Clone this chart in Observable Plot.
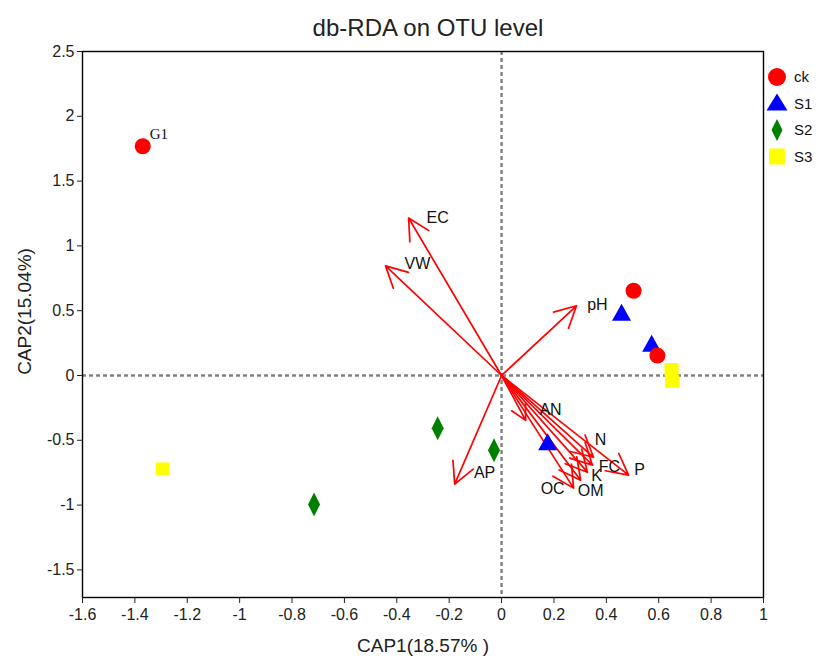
<!DOCTYPE html>
<html><head><meta charset="utf-8">
<script src="https://cdn.jsdelivr.net/npm/d3@7"></script>
<script src="https://cdn.jsdelivr.net/npm/@observablehq/plot@0.6"></script>
<style>
body{margin:0;background:#fff;font-family:"Liberation Sans",Arial,sans-serif;}
#wrap{position:relative;width:817px;height:663px;overflow:hidden;}
#title{position:absolute;left:0;top:16px;width:856px;text-align:center;font-size:24px;color:#222;line-height:24px;}
#chart{position:absolute;left:0;top:40px;}
#legend{position:absolute;left:763px;top:60px;}
</style>
</head><body>
<div id="wrap"><div id="title">db-RDA on OTU level</div><div id="chart"></div><svg id="legend" width="54" height="110"></svg></div>
<script>
// ---- data ----
const groups = ["ck", "S1", "S2", "S3"];
const groupColors = ["#ff0000", "#0000ff", "#008000", "#ffff00"];
const sampleGroup = ["ck", "ck", "ck", "S1", "S1", "S1", "S2", "S2", "S2", "S3", "S3", "S3"];
const sampleX = [-1.370, 0.504, 0.595, 0.458, 0.573, 0.176, -0.244, -0.029, -0.716, -1.294, 0.649, 0.651];
const sampleY = [1.769, 0.654, 0.154, 0.477, 0.238, -0.523, -0.408, -0.577, -0.995, -0.721, 0.046, -0.046];
const sampleLabel = ["G1", "", "", "", "", "", "", "", "", "", "", ""];
const envNames = ["EC", "VW", "pH", "AP", "AN", "N", "FC", "K", "OM", "OC", "P"];
const envX = [-0.355, -0.443, 0.286, -0.179, 0.092, 0.351, 0.347, 0.328, 0.302, 0.275, 0.485];
const envY = [1.215, 0.846, 0.538, -0.838, -0.346, -0.631, -0.692, -0.746, -0.808, -0.869, -0.769];
const envLabelX = [-0.244, -0.321, 0.366, -0.065, 0.187, 0.378, 0.412, 0.363, 0.340, 0.195, 0.527];
const envLabelY = [1.215, 0.862, 0.546, -0.754, -0.269, -0.500, -0.708, -0.777, -0.892, -0.877, -0.731];
const xTicks = [-1.6, -1.4, -1.2, -1, -0.8, -0.6, -0.4, -0.2, 0, 0.2, 0.4, 0.6, 0.8, 1];
const yTicks = [-1.5, -1, -0.5, 0, 0.5, 1, 1.5, 2, 2.5];

// ---- symbols ----
const symCircle = {draw(c){ c.moveTo(8,0); c.arc(0,0,8,0,2*Math.PI); c.closePath(); }};
const symTri = {draw(c){ c.moveTo(0,-10); c.lineTo(9.5,7); c.lineTo(-9.5,7); c.closePath(); }};
const symDiamond = {draw(c){ c.moveTo(0,-12); c.lineTo(6,0); c.lineTo(0,12); c.lineTo(-6,0); c.closePath(); }};
const symSquare = {draw(c){ c.rect(-7,-6.5,14,13); }};
const groupSymbols = [symCircle, symTri, symDiamond, symSquare];

const samples = sampleX.map((x, i) => ({x, y: sampleY[i], g: sampleGroup[i], label: sampleLabel[i]}));
const env = envNames.map((n, i) => ({n, x: envX[i], y: envY[i], lx: envLabelX[i], ly: envLabelY[i]}));

const drawOrder = ["S1", "ck", "S2", "S3"];
const dotMarks = drawOrder.map(g => {
  const k = groups.indexOf(g);
  return Plot.dot(samples.filter(d => d.g === g), {x: "x", y: "y", r: 8, symbol: groupSymbols[k], fill: groupColors[k], stroke: "none"});
});

const plot = Plot.plot({
  width: 817, height: 623,
  marginTop: 11, marginBottom: 66, marginLeft: 82, marginRight: 54,
  style: {fontFamily: "'Liberation Sans', Arial, sans-serif", color: "#222", background: "#fff"},
  x: {domain: [-1.6, 1]},
  y: {domain: [-1.713, 2.5]},
  marks: [
    Plot.ruleX([0], {stroke: "#808080", strokeWidth: 2.4, strokeDasharray: "4,3"}),
    Plot.ruleY([0], {stroke: "#808080", strokeWidth: 2.4, strokeDasharray: "4,3"}),
    Plot.frame({stroke: "#000", strokeWidth: 1.4}),
    Plot.axisX({ticks: xTicks, tickFormat: d => String(d), tickSize: 6, tickPadding: 5, label: "CAP1(18.57% )", labelArrow: false, labelAnchor: "center", labelOffset: 54}),
    Plot.axisY({ticks: yTicks, tickFormat: d => String(d), tickSize: 5, tickPadding: 3, label: "CAP2(15.04%)", labelArrow: false, labelAnchor: "center", labelOffset: 65}),
    Plot.arrow(env, {x1: d => 0, y1: d => 0, x2: "x", y2: "y", stroke: "#ff0000", strokeWidth: 1.7, headLength: 21, headAngle: 55}),
    Plot.text(env, {x: "lx", y: "ly", text: "n", fontSize: 16, fill: "#111"}),
    ...dotMarks,
    Plot.text(samples, {x: "x", y: "y", text: "label", textAnchor: "start", dx: 7, dy: -12, fontSize: 15, fontFamily: "'Liberation Serif', serif", fill: "#111"})
  ]
});
document.getElementById("chart").appendChild(plot);
plot.querySelectorAll("g[aria-label='x-axis tick label'], g[aria-label='y-axis tick label']").forEach(g => g.setAttribute("font-size", "16"));
plot.querySelectorAll("g[aria-label='x-axis label'], g[aria-label='y-axis label']").forEach(g => {
  g.setAttribute("font-size", "19");
  g.querySelectorAll("text").forEach(t => { t.textContent = t.textContent.replace(/\s*[→↑]\s*$/, "").replace(/^\s*[←↓]\s*/, ""); });
});
const yl = plot.querySelector("g[aria-label='y-axis label']");
if (yl) {
  const wrapG = document.createElementNS("http://www.w3.org/2000/svg", "g");
  wrapG.setAttribute("transform", "translate(0,-13)");
  yl.parentNode.insertBefore(wrapG, yl);
  wrapG.appendChild(yl);
}

// ---- legend ----
const lg = d3.select("#legend");
const legSyms = [
  {draw(c){ c.moveTo(9,0); c.arc(0,0,9,0,2*Math.PI); c.closePath(); }},
  {draw(c){ c.moveTo(0,-10); c.lineTo(10.5,7); c.lineTo(-10.5,7); c.closePath(); }},
  {draw(c){ c.moveTo(0,-11); c.lineTo(5.5,0); c.lineTo(0,11); c.lineTo(-5.5,0); c.closePath(); }},
  {draw(c){ c.rect(-8,-8,16,16); }}
];
groups.forEach((g, i) => {
  const cy = 17 + i * 26.5;
  lg.append("path").attr("transform", `translate(14,${cy})`).attr("d", d3.symbol(legSyms[i])()).attr("fill", groupColors[i]);
  lg.append("text").attr("x", 31).attr("y", cy).attr("dy", "0.35em").attr("font-size", 15).attr("fill", "#111").text(g);
});
</script>
</body></html>
